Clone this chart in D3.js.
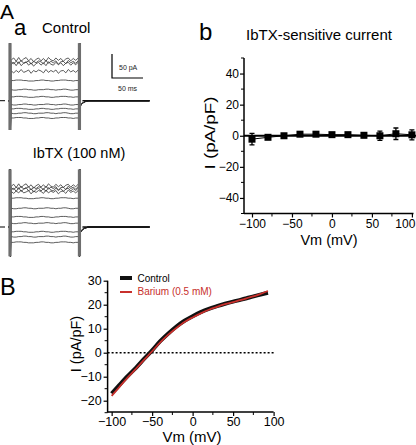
<!DOCTYPE html>
<html><head><meta charset="utf-8">
<script src="https://cdn.jsdelivr.net/npm/d3@7"></script>
<style>body{margin:0;background:#fff}</style>
</head><body>
<svg id="c" width="416" height="445" font-family="Liberation Sans, Arial, sans-serif"></svg>
<script>
// ---------- Data ----------
// Panel Aa: current traces (step levels in pA relative to holding)
const controlLevels = [85, 80, 76, 61, 42, 23, 8, -8, -17, -26, -36];
const ibtxLevels    = [85, 81, 77, 73, 60, 39, 21, 8, -10, -20, -32];
const traceNoise    = [0, 1, 0, 1, 2, 3, 2, 3, 2, 3, 2]; // which wiggle each sweep uses
const noiseTimes = [2,6,10,14,18,22,26,30,34,38,42,46,50,54,58,62,66,70,74,78,82,86,90,94,98,102,106,110];
const wiggles = [
  [0,4,-3,5,-3,2,5,-2,3,-4,1,4,-2,3,-3,5,0,-2,4,-1,3,-3,2,4,-2,3,-1,4],
  [1,-3,2,-2,4,-2,0,3,-4,2,-1,3,1,-3,4,-2,2,-1,3,-4,1,2,-3,4,-1,2,-2,3],
  [0,0,1,1,1,0,0,-1,-1,-1,0,0,1,1,0,0,-1,-1,0,0,1,1,1,0,0,-1,0,0],
  [0,-1,-1,0,0,1,1,0,0,-1,-1,0,0,0,1,1,0,0,-1,0,0,1,1,0,-1,-1,0,0]
];
const stepStart = 0, stepEnd = 112, traceEnd = 225;   // ms
const transientMax = 120, transientMin = -61;          // pA
const tailTimes  = [114, 117, 121, 127];
const tailValues = [-10, -5, -2, 0];

// Panel Ab: IbTX-sensitive current
const bVolts = [-100, -80, -60, -40, -20, 0, 20, 40, 60, 80, 100];
const bCurrent = [-2.2, -1, 0, 1, 1, 0.7, 0.7, 0.3, 0, 1.3, 0.6];
const bError = [3.7, 1, 1, 1, 1, 1, 1, 1.5, 3, 3.7, 3.2];
const bYTicks = [-40, -20, 0, 20, 40];
const bXTicks = [-100, -50, 0, 50, 100];

// Panel B: I-V ramps
const rampVolts = [-100,-90,-80,-70,-60,-50,-40,-30,-20,-10,0,10,20,30,40,50,60,70,80,93];
const controlIV = [-17,-13.3,-9.7,-6.3,-2.6,1,4.8,8,10.9,13.3,15.2,16.9,18.3,19.4,20.4,21.3,22.1,23,23.9,25];
const bariumIV  = [-18,-14.1,-10.3,-6.7,-3,0.6,4.3,7.5,10.3,12.8,14.7,16.4,17.9,19.1,20.2,21.1,22,23,24,25.7];
const BYTicks = [-20, -10, 0, 10, 20, 30];
const BXTicks = [-100, -50, 0, 50, 100];
const legendLabels = ["Control", "Barium (0.5 mM)"];

// ---------- Drawing ----------
const svg = d3.select("#c");
const txt = (x, y, s, size, anchor, fill) => svg.append("text").attr("x", x).attr("y", y)
  .attr("font-size", size).attr("text-anchor", anchor || "start").attr("fill", fill || "#000").text(s);

txt(0, 19, "A", 21);
txt(14, 35, "a", 22);
txt(42, 33, "Control", 15);
txt(79, 158, "IbTX (100 nM)", 14.5, "middle");
txt(199, 40, "b", 24);
txt(319, 40, "IbTX-sensitive current", 15, "middle");
txt(0, 295, "B", 23.5);

// Traces
const tScale = d3.scaleLinear().domain([0, 50]).range([10, 41]);
function drawTraces(levels, holdY) {
  const iScale = d3.scaleLinear().domain([0, 50]).range([holdY, holdY - 24]);
  const g = svg.append("g");
  levels.forEach((lv, k) => {
    const w = wiggles[traceNoise[k]];
    const pts = [[-3, 0], [stepStart, 0], [stepStart + 0.3, transientMax], [stepStart + 0.7, transientMin], [stepStart + 1.5, lv]];
    noiseTimes.forEach((t, j) => pts.push([t, lv + w[j]]));
    pts.push([stepEnd - 0.3, lv], [stepEnd, transientMin], [stepEnd + 0.4, transientMax], [stepEnd + 0.9, tailValues[0]]);
    tailTimes.forEach((t, j) => pts.push([t, tailValues[j]]));
    pts.push([traceEnd, 0]);
    g.append("path").datum(pts)
      .attr("d", d3.line().x(d => tScale(d[0])).y(d => iScale(d[1])))
      .attr("fill", "none").attr("stroke", "#333").attr("stroke-width", 0.8);
  });
  // transient bands
  [stepStart, stepEnd].forEach(t => {
    g.append("line").attr("x1", tScale(t)).attr("x2", tScale(t))
      .attr("y1", iScale(transientMax)).attr("y2", iScale(transientMin))
      .attr("stroke", "#6e6e6e").attr("stroke-width", 3.2);
  });
  // holding marker
  g.append("line").attr("x1", 0).attr("x2", 5).attr("y1", holdY).attr("y2", holdY).attr("stroke", "#000").attr("stroke-width", 1);
  g.append("line").attr("x1", tScale(stepEnd) + 3).attr("x2", tScale(traceEnd)).attr("y1", holdY).attr("y2", holdY).attr("stroke", "#111").attr("stroke-width", 1.6);
}
drawTraces(controlLevels, 100.7);
drawTraces(ibtxLevels, 227);

// Scale bar
{
  const iS = d3.scaleLinear().domain([0, 50]).range([78, 54]);
  svg.append("path").attr("d", `M${112},${iS(50)}V${iS(0)}H${112 + tScale(50) - tScale(0)}`)
    .attr("fill", "none").attr("stroke", "#000").attr("stroke-width", 1.2);
  txt(119, 70, "50 pA", 7).attr("fill", "#222");
  txt(118, 91, "50 ms", 7).attr("fill", "#222");
}

function styleAxis(g, size) {
  g.attr("font-family", null);
  g.select(".domain").attr("stroke-width", 1.5);
  g.selectAll("text").attr("font-size", size).attr("fill", "#000");
  g.selectAll(".tick line").attr("stroke-width", 1.2);
}

// Panel b
{
  const x = d3.scaleLinear().domain([-110, 102]).range([244, 413.5]);
  const y = d3.scaleLinear().domain([-50, 50]).range([213.5, 58]);
  const gx = svg.append("g").attr("transform", "translate(0,213.5)")
    .call(d3.axisBottom(x).tickValues(bXTicks).tickSize(4).tickPadding(2).tickFormat(d3.format("d")));
  const gy = svg.append("g").attr("transform", "translate(244,0)")
    .call(d3.axisLeft(y).tickValues(bYTicks).tickSize(4).tickPadding(1).tickFormat(d3.format("d")));
  styleAxis(gx, 12); styleAxis(gy, 12);
  gx.select(".domain").attr("d", `M${x(-110)},0H${x(102)}`);
  gy.select(".domain").attr("d", `M0,${y(50)}V${y(-50)}`);
  gx.selectAll(".tick text").filter(d => d === 100).attr("text-anchor", "end").attr("dx", 3);
  [-75, -25, 25, 75].forEach(v => svg.append("line").attr("x1", x(v)).attr("x2", x(v)).attr("y1", 213.5).attr("y2", 216.5).attr("stroke", "#000"));
  [-50, -30, -10, 10, 30, 50].forEach(v => svg.append("line").attr("x1", 244).attr("x2", 241).attr("y1", y(v)).attr("y2", y(v)).attr("stroke", "#000"));
  svg.append("line").attr("x1", 244).attr("x2", 416).attr("y1", y(0)).attr("y2", y(0)).attr("stroke", "#000").attr("stroke-width", 2);
  svg.append("path").datum(bVolts.map((v, i) => [v, bCurrent[i]]))
    .attr("d", d3.line().x(d => x(d[0])).y(d => y(d[1]))).attr("fill", "none").attr("stroke", "#000").attr("stroke-width", 1);
  bVolts.forEach((v, i) => {
    const cx = x(v), y1 = y(bCurrent[i] + bError[i]), y2 = y(bCurrent[i] - bError[i]);
    svg.append("path").attr("d", `M${cx},${y1}V${y2}M${cx - 2.5},${y1}H${cx + 2.5}M${cx - 2.5},${y2}H${cx + 2.5}`)
      .attr("stroke", "#000").attr("stroke-width", 1.3).attr("fill", "none");
    svg.append("rect").attr("x", cx - 3.5).attr("y", y(bCurrent[i]) - 3.5).attr("width", 7).attr("height", 7).attr("fill", "#000");
  });
  txt(329, 245, "Vm (mV)", 14.5, "middle");
  svg.append("text").attr("transform", "translate(215,133) rotate(-90)").attr("text-anchor", "middle")
    .attr("font-size", 15).attr("textLength", 73).attr("lengthAdjust", "spacingAndGlyphs").text("I (pA/pF)");
}

// Panel B
{
  const x = d3.scaleLinear().domain([-105, 100]).range([107.6, 273.6]);
  const y = d3.scaleLinear().domain([-25, 30]).range([412.7, 280.7]);
  const gx = svg.append("g").attr("transform", "translate(0,412)")
    .call(d3.axisBottom(x).tickValues(BXTicks).tickSize(4).tickPadding(1.5).tickFormat(d3.format("d")));
  const gy = svg.append("g").attr("transform", "translate(107.6,0)")
    .call(d3.axisLeft(y).tickValues(BYTicks).tickSize(4).tickPadding(2).tickFormat(d3.format("d")));
  styleAxis(gx, 12.5); styleAxis(gy, 12.5);
  gx.select(".domain").attr("d", `M${x(-105)},0H${x(100)}`);
  gy.select(".domain").attr("d", `M0,${y(30)}V${y(-25)}`);
  [-75, -25, 25, 75].forEach(v => svg.append("line").attr("x1", x(v)).attr("x2", x(v)).attr("y1", 412).attr("y2", 415).attr("stroke", "#000"));
  [-25, -15, -5, 5, 15, 25].forEach(v => svg.append("line").attr("x1", 107.6).attr("x2", 104.6).attr("y1", y(v)).attr("y2", y(v)).attr("stroke", "#000"));
  svg.append("line").attr("x1", x(-105)).attr("x2", x(100)).attr("y1", y(0)).attr("y2", y(0))
    .attr("stroke", "#000").attr("stroke-width", 1.6).attr("stroke-dasharray", "2,2");
  const line = d3.line().curve(d3.curveMonotoneX).x(d => x(d[0])).y(d => y(d[1]));
  svg.append("path").datum(rampVolts.map((v, i) => [v, controlIV[i]])).attr("d", line)
    .attr("fill", "none").attr("stroke", "#111").attr("stroke-width", 4);
  svg.append("path").datum(rampVolts.map((v, i) => [v, bariumIV[i]])).attr("d", line)
    .attr("fill", "none").attr("stroke", "#c8302c").attr("stroke-width", 1.8);
  // legend
  svg.append("line").attr("x1", 120).attr("x2", 132).attr("y1", 278).attr("y2", 278).attr("stroke", "#111").attr("stroke-width", 4);
  txt(137.5, 281.5, legendLabels[0], 10);
  svg.append("line").attr("x1", 120).attr("x2", 132).attr("y1", 292).attr("y2", 292).attr("stroke", "#c8302c").attr("stroke-width", 2);
  txt(137.5, 295, legendLabels[1], 10, "start", "#c8302c");
  txt(192, 442, "Vm (mV)", 15, "middle");
  svg.append("text").attr("transform", "translate(81,344) rotate(-90)").attr("text-anchor", "middle")
    .attr("font-size", 14.5).text("I (pA/pF)");
}
</script>
</body></html>
